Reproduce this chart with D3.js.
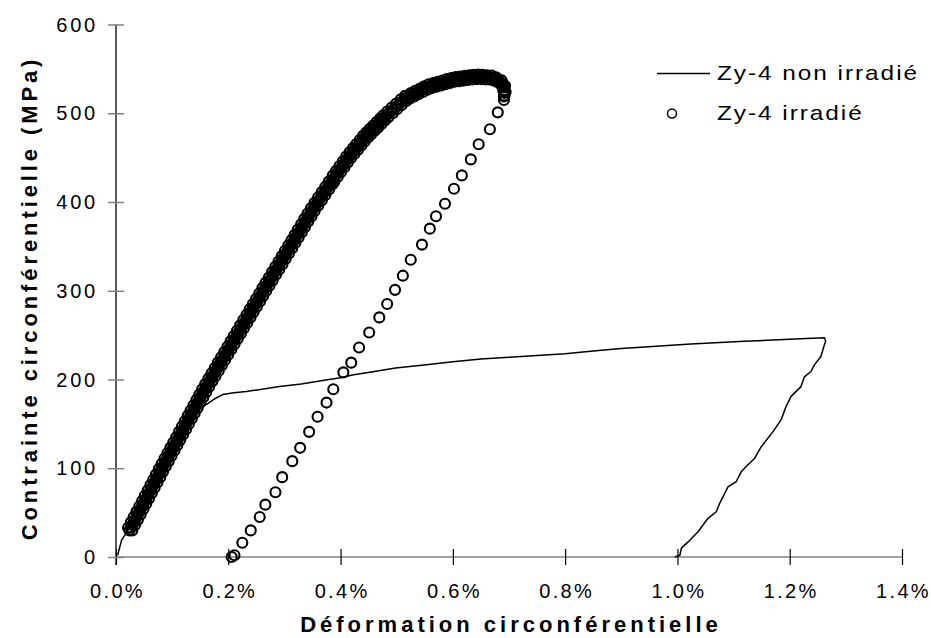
<!DOCTYPE html>
<html>
<head>
<meta charset="utf-8">
<script src="https://cdn.jsdelivr.net/npm/d3@7"></script>
<style>
body { margin: 0; background: #fff; }
text { font-family: Arial, "Liberation Sans", sans-serif; fill: #000; }
</style>
</head>
<body>
<div id="chart"></div>
<script>
// Axis ticks
var xTicks = [0, 0.2, 0.4, 0.6, 0.8, 1.0, 1.2, 1.4];
var yTicks = [0, 100, 200, 300, 400, 500, 600];
var seriesNames = ["Zy-4 non irradié", "Zy-4 irradié"];

// Zy-4 non irradié : [déformation %, contrainte MPa]
var nonIrradie = [
  [0.003, 2], [0.005, 7], [0.010, 19], [0.016, 25], [0.030, 40], [0.060, 73], [0.100, 118],
  [0.140, 160], [0.155, 170], [0.164, 173], [0.175, 178], [0.190, 183], [0.210, 185],
  [0.232, 186.5], [0.260, 189], [0.291, 192], [0.330, 195], [0.368, 199], [0.400, 202],
  [0.421, 205], [0.460, 209], [0.498, 213], [0.557, 217], [0.600, 220], [0.650, 223],
  [0.700, 225], [0.750, 227], [0.800, 229], [0.850, 232], [0.900, 235], [0.948, 237],
  [1.024, 240], [1.119, 243], [1.190, 245], [1.240, 246.5], [1.262, 247], [1.264, 243],
  [1.2617, 239], [1.2556, 226], [1.2439, 216.5], [1.2379, 209], [1.2262, 203], [1.2201, 192],
  [1.2024, 181], [1.1935, 169.5], [1.1846, 154.5], [1.1699, 141], [1.1491, 124], [1.1374, 111],
  [1.1255, 104], [1.1136, 96], [1.1047, 85], [1.0900, 79], [1.0753, 60.5], [1.0692, 51],
  [1.0545, 43.6], [1.0367, 28.5], [1.0190, 17], [1.0071, 10], [1.0043, 2], [0.9954, 0]
];

// Zy-4 irradié, charge : points au centre de la bande
var irradieCharge = [
  [0.0240, 30], [0.0265, 33], [0.0290, 36], [0.0315, 39], [0.0340, 42], [0.0364, 45], [0.0389, 48],
  [0.0414, 51], [0.0439, 54], [0.0464, 57], [0.0489, 60], [0.0514, 63], [0.0538, 66], [0.0563, 69],
  [0.0588, 72], [0.0613, 75], [0.0638, 78], [0.0663, 81], [0.0688, 84], [0.0712, 87], [0.0737, 90],
  [0.0762, 93], [0.0787, 96], [0.0812, 99], [0.0837, 102], [0.0863, 105], [0.0889, 108], [0.0914, 111],
  [0.0940, 114], [0.0966, 117], [0.0992, 120], [0.1018, 123], [0.1043, 126], [0.1069, 129], [0.1095, 132],
  [0.1121, 135], [0.1146, 138], [0.1172, 141], [0.1198, 144], [0.1224, 147], [0.1249, 150], [0.1275, 153],
  [0.1301, 156], [0.1327, 159], [0.1352, 162], [0.1378, 165], [0.1404, 168], [0.1430, 171], [0.1455, 174],
  [0.1481, 177], [0.1507, 180], [0.1533, 183], [0.1558, 186], [0.1584, 189], [0.1610, 192], [0.1638, 195],
  [0.1667, 198], [0.1695, 201], [0.1723, 204], [0.1751, 207], [0.1780, 210], [0.1808, 213], [0.1836, 216],
  [0.1865, 219], [0.1893, 222], [0.1921, 225], [0.1949, 228], [0.1978, 231], [0.2006, 234], [0.2034, 237],
  [0.2063, 240], [0.2091, 243], [0.2119, 246], [0.2147, 249], [0.2176, 252], [0.2204, 255], [0.2232, 258],
  [0.2261, 261], [0.2289, 264], [0.2317, 267], [0.2346, 270], [0.2374, 273], [0.2402, 276], [0.2430, 279],
  [0.2459, 282], [0.2487, 285], [0.2515, 288], [0.2544, 291], [0.2572, 294], [0.2600, 297], [0.2628, 300],
  [0.2657, 303], [0.2685, 306], [0.2714, 309], [0.2743, 312], [0.2772, 315], [0.2800, 318], [0.2829, 321],
  [0.2858, 324], [0.2887, 327], [0.2915, 330], [0.2944, 333], [0.2973, 336], [0.3002, 339], [0.3030, 342],
  [0.3059, 345], [0.3088, 348], [0.3117, 351], [0.3145, 354], [0.3174, 357], [0.3203, 360], [0.3232, 363],
  [0.3260, 366], [0.3289, 369], [0.3318, 372], [0.3347, 375], [0.3375, 378], [0.3404, 381], [0.3433, 384],
  [0.3462, 387], [0.3490, 390], [0.3521, 393], [0.3553, 396], [0.3585, 399], [0.3616, 402], [0.3648, 405],
  [0.3680, 408], [0.3712, 411], [0.3744, 414], [0.3775, 417], [0.3807, 420], [0.3839, 423], [0.386, 425],
  [0.389, 427.7], [0.392, 430.4], [0.395, 433.1], [0.398, 435.8], [0.401, 438.5], [0.404, 441.1],
  [0.407, 443.8], [0.410, 446.5], [0.413, 449.2], [0.416, 451.8], [0.419, 454.1], [0.422, 456.4],
  [0.425, 458.7], [0.428, 461.0], [0.431, 463.3], [0.434, 465.6], [0.437, 467.9], [0.440, 470.2],
  [0.443, 472.5], [0.446, 474.6], [0.449, 476.5], [0.452, 478.5], [0.455, 480.4], [0.458, 482.3],
  [0.461, 484.2], [0.464, 486.1], [0.467, 488.1], [0.470, 490.0], [0.473, 491.9], [0.476, 493.8],
  [0.479, 495.7], [0.482, 497.6], [0.486, 499.9], [0.490, 502.1], [0.494, 504.4], [0.498, 506.7],
  [0.502, 509.0], [0.506, 511.3], [0.510, 513.6], [0.514, 515.9], [0.518, 517.6], [0.522, 518.9],
  [0.526, 520.2], [0.530, 521.4], [0.534, 522.7], [0.538, 524.0], [0.542, 525.2], [0.546, 526.5],
  [0.550, 527.8], [0.554, 529.0], [0.558, 530.2], [0.562, 530.9], [0.566, 531.6], [0.570, 532.3],
  [0.574, 533.0], [0.578, 533.7], [0.582, 534.4], [0.586, 535.2], [0.590, 535.9], [0.594, 536.6],
  [0.598, 537.3], [0.602, 538.0], [0.606, 538.3], [0.610, 538.6], [0.614, 538.9], [0.618, 539.3],
  [0.622, 539.6], [0.626, 539.9], [0.630, 540.2], [0.634, 540.5], [0.638, 540.8], [0.642, 541.0],
  [0.646, 541.0], [0.650, 541.0], [0.654, 540.8], [0.658, 540.6], [0.662, 540.4], [0.666, 540.2],
  [0.670, 540.0], [0.674, 539.0], [0.678, 538.0], [0.682, 536.5], [0.686, 534.5], [0.690, 532.0],
  [0.691, 529.0], [0.692, 526.0], [0.692, 523.0], [0.692, 520.0]
];

// Zy-4 irradié, charge : points dispersés vers les bords de la bande
var irradieChargeBords = [
  [0.0290, 30], [0.0215, 33], [0.0340, 36], [0.0265, 39], [0.0390, 42], [0.0314, 45], [0.0439, 48],
  [0.0364, 51], [0.0489, 54], [0.0414, 57], [0.0539, 60], [0.0464, 63], [0.0588, 66], [0.0513, 69],
  [0.0638, 72], [0.0563, 75], [0.0688, 78], [0.0613, 81], [0.0738, 84], [0.0662, 87], [0.0787, 90],
  [0.0712, 93], [0.0837, 96], [0.0762, 99], [0.0887, 102], [0.0813, 105], [0.0939, 108], [0.0864, 111],
  [0.0990, 114], [0.0916, 117], [0.1042, 120], [0.0968, 123], [0.1093, 126], [0.1019, 129], [0.1145, 132],
  [0.1071, 135], [0.1196, 138], [0.1122, 141], [0.1248, 144], [0.1174, 147], [0.1299, 150], [0.1225, 153],
  [0.1351, 156], [0.1277, 159], [0.1402, 162], [0.1328, 165], [0.1454, 168], [0.1380, 171], [0.1505, 174],
  [0.1431, 177], [0.1557, 180], [0.1483, 183], [0.1608, 186], [0.1534, 189], [0.1660, 192], [0.1588, 195],
  [0.1717, 198], [0.1645, 201], [0.1773, 204], [0.1701, 207], [0.1830, 210], [0.1758, 213], [0.1886, 216],
  [0.1815, 219], [0.1943, 222], [0.1871, 225], [0.1999, 228], [0.1928, 231], [0.2056, 234], [0.1984, 237],
  [0.2113, 240], [0.2041, 243], [0.2169, 246], [0.2097, 249], [0.2226, 252], [0.2154, 255], [0.2282, 258],
  [0.2211, 261], [0.2339, 264], [0.2267, 267], [0.2396, 270], [0.2324, 273], [0.2452, 276], [0.2380, 279],
  [0.2509, 282], [0.2437, 285], [0.2565, 288], [0.2494, 291], [0.2622, 294], [0.2550, 297], [0.2678, 300],
  [0.2607, 303], [0.2735, 306], [0.2664, 309], [0.2793, 312], [0.2722, 315], [0.2850, 318], [0.2779, 321],
  [0.2908, 324], [0.2837, 327], [0.2965, 330], [0.2894, 333], [0.3023, 336], [0.2952, 339], [0.3080, 342],
  [0.3009, 345], [0.3138, 348], [0.3067, 351], [0.3195, 354], [0.3124, 357], [0.3253, 360], [0.3182, 363],
  [0.3310, 366], [0.3239, 369], [0.3368, 372], [0.3297, 375], [0.3425, 378], [0.3354, 381], [0.3483, 384],
  [0.3412, 387], [0.3540, 390], [0.3471, 393], [0.3603, 396], [0.3535, 399], [0.3666, 402], [0.3598, 405],
  [0.3730, 408], [0.3662, 411], [0.3794, 414], [0.3725, 417], [0.3857, 420], [0.3789, 423],
  [0.389, 423.0], [0.386, 429.7], [0.395, 428.4], [0.392, 435.1], [0.401, 433.8], [0.398, 440.5],
  [0.407, 439.1], [0.404, 445.8], [0.413, 444.5], [0.410, 451.2], [0.419, 449.8], [0.416, 456.1],
  [0.425, 454.4], [0.422, 460.7], [0.431, 459.0], [0.428, 465.3], [0.437, 463.6], [0.434, 469.9],
  [0.443, 468.2], [0.440, 474.5], [0.449, 472.6], [0.446, 478.5], [0.455, 476.5], [0.452, 482.4],
  [0.461, 480.3], [0.458, 486.2], [0.467, 484.1], [0.464, 490.1], [0.473, 488.0], [0.470, 493.9],
  [0.479, 491.8], [0.476, 497.7], [0.485, 495.6], [0.483, 501.9], [0.493, 500.1], [0.491, 506.4],
  [0.501, 504.7], [0.499, 511.0], [0.509, 509.3], [0.507, 515.6], [0.517, 513.9], [0.515, 519.6],
  [0.523, 516.4], [0.525, 522.7], [0.531, 518.9], [0.533, 525.2], [0.539, 521.5], [0.541, 527.7],
  [0.547, 524.0], [0.549, 530.3], [0.555, 526.5], [0.557, 532.7], [0.563, 528.4], [0.565, 534.1],
  [0.571, 529.8], [0.573, 535.5], [0.579, 531.2], [0.581, 536.9], [0.587, 532.7], [0.589, 538.4],
  [0.595, 534.1], [0.597, 539.8], [0.603, 535.5], [0.605, 540.8], [0.611, 536.1], [0.613, 541.4],
  [0.619, 536.8], [0.621, 542.1], [0.627, 537.4], [0.629, 542.7], [0.635, 538.0], [0.637, 543.3],
  [0.643, 538.5], [0.645, 543.5], [0.651, 538.5], [0.653, 543.3], [0.659, 538.1], [0.661, 542.9],
  [0.667, 537.7], [0.669, 542.5], [0.675, 536.5], [0.677, 540.5], [0.682, 534.0], [0.687, 537.0],
  [0.688, 530.0], [0.693, 531.0], [0.690, 525.0], [0.694, 524.0], [0.691, 519.0]
];

// Zy-4 irradié, décharge
var irradieDecharge = [
  [0.691, 515], [0.680, 501], [0.666, 482], [0.646, 465], [0.632, 448], [0.616, 430], [0.602, 415],
  [0.586, 398], [0.570, 384], [0.559, 370], [0.545, 352], [0.525, 335], [0.511, 317], [0.497, 301],
  [0.483, 285], [0.469, 270], [0.451, 253], [0.433, 236], [0.419, 219], [0.405, 208], [0.387, 189],
  [0.375, 174], [0.359, 158], [0.344, 141], [0.328, 123], [0.314, 108], [0.296, 90], [0.284, 73],
  [0.266, 59], [0.256, 45], [0.240, 30], [0.225, 16], [0.211, 2], [0.206, 0]
];

var width = 931, height = 638;

var svg = d3.select("#chart")
    .append("svg")
    .attr("width", width)
    .attr("height", height);

var x = d3.scaleLinear().domain([0, 1.4]).range([116, 902]);
var y = d3.scaleLinear().domain([0, 600]).range([557, 24.5]);

// x axis: grey line, black crossing ticks
svg.append("line")
    .attr("x1", x(0)).attr("x2", x(1.4))
    .attr("y1", y(0)).attr("y2", y(0))
    .attr("stroke", "#808080").attr("stroke-width", 1.5);

var xAxis = svg.append("g")
    .attr("transform", "translate(0," + (y(0) - 8) + ")")
    .call(d3.axisBottom(x).tickValues(xTicks).tickSize(16)
        .tickFormat(function (d) { return d.toFixed(1) + "%"; }));
xAxis.select(".domain").remove();
xAxis.selectAll(".tick line").attr("stroke", "#000").attr("stroke-width", 1.2);
xAxis.selectAll(".tick text")
    .attr("y", 49).attr("dy", null).attr("x", 1)
    .style("font-size", "20px")
    .style("letter-spacing", "2.3px")
    .style("font-family", "Arial, 'Liberation Sans', sans-serif");

// y axis: black line, grey crossing ticks
svg.append("line")
    .attr("x1", x(0)).attr("x2", x(0))
    .attr("y1", y(600)).attr("y2", y(0) + 8)
    .attr("stroke", "#000").attr("stroke-width", 1.3);

var yAxis = svg.append("g")
    .attr("transform", "translate(" + (x(0) + 8) + ",0)")
    .call(d3.axisLeft(y).tickValues(yTicks).tickSize(16));
yAxis.select(".domain").remove();
yAxis.selectAll(".tick line").attr("stroke", "#808080").attr("stroke-width", 1.5);
yAxis.selectAll(".tick text")
    .attr("x", -26).attr("dy", null).attr("y", 6.5)
    .style("font-size", "20px")
    .style("letter-spacing", "2.8px")
    .style("font-family", "Arial, 'Liberation Sans', sans-serif");

// axis titles
svg.append("text")
    .attr("x", 511).attr("y", 632)
    .attr("text-anchor", "middle")
    .style("font-size", "22px").style("font-weight", "bold")
    .style("letter-spacing", "4px")
    .text("Déformation circonférentielle");

svg.append("text")
    .attr("transform", "translate(37,298) rotate(-90)")
    .attr("text-anchor", "middle")
    .style("font-size", "22px").style("font-weight", "bold")
    .style("letter-spacing", "3.9px")
    .text("Contrainte circonférentielle (MPa)");

// non irradiated curve
var line = d3.line()
    .x(function (d) { return x(d[0]); })
    .y(function (d) { return y(d[1]); });

svg.append("path")
    .datum(nonIrradie)
    .attr("d", line)
    .attr("fill", "none")
    .attr("stroke", "#000")
    .attr("stroke-width", 1.5)
    .attr("stroke-linejoin", "round");

// irradiated points
svg.append("g")
    .selectAll("circle")
    .data(irradieCharge.concat(irradieChargeBords, irradieDecharge))
    .join("circle")
    .attr("cx", function (d) { return x(d[0]); })
    .attr("cy", function (d) { return y(d[1]); })
    .attr("r", 5)
    .attr("fill", "none")
    .attr("stroke", "#000")
    .attr("stroke-width", 2.1);

// legend
var legend = svg.append("g");
legend.append("line")
    .attr("x1", 657).attr("x2", 710)
    .attr("y1", 73.5).attr("y2", 73.5)
    .attr("stroke", "#000").attr("stroke-width", 1.4);
legend.append("circle")
    .attr("cx", 672).attr("cy", 113.5).attr("r", 4.5)
    .attr("fill", "none").attr("stroke", "#000").attr("stroke-width", 1.5);
legend.selectAll("text")
    .data(seriesNames)
    .join("text")
    .attr("transform", function (d, i) { return "translate(717," + (80 + i * 40) + ") scale(1.22,1)"; })
    .style("font-size", "20px")
    .style("letter-spacing", "1.6px")
    .text(function (d) { return d; });
</script>
</body>
</html>
